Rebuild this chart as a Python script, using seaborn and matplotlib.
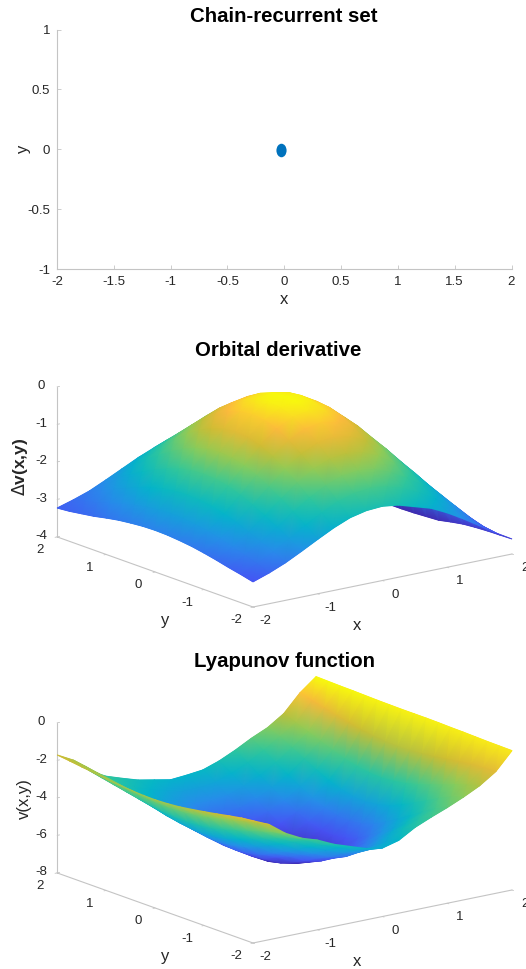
#!/usr/bin/env python3
# -*- coding: utf-8 -*-
"""
Chain-recurrent set, orbital derivative and Lyapunov function
"""
import numpy as np
import pandas as pd
import matplotlib
matplotlib.use('Agg')
import matplotlib.pyplot as plt
import seaborn as sns
from matplotlib.colors import LinearSegmentedColormap
from matplotlib.markers import MarkerStyle
from matplotlib.transforms import Affine2D
from mpl_toolkits.mplot3d import proj3d

# chain-recurrent set
set_x = [-0.03]
set_y = [-0.01]

# grid of the two surfaces
grid_x = [-2, -1.75, -1.5, -1.25, -1, -0.75, -0.5, -0.25, 0,
          0.25, 0.5, 0.75, 1, 1.25, 1.5, 1.75, 2]
grid_y = list(grid_x)

# orbital derivative, one row per grid_y value
orbital = [
    [-3.33, -3.18, -3.00, -2.78, -2.55, -2.33, -2.15, -2.05, -2.02, -2.08, -2.21, -2.34, -2.55, -2.80, -3.07, -3.35, -3.60],
    [-3.25, -3.06, -2.83, -2.57, -2.30, -2.05, -1.84, -1.71, -1.66, -1.71, -1.84, -2.05, -2.30, -2.60, -2.93, -3.30, -3.61],
    [-3.18, -2.95, -2.68, -2.38, -2.06, -1.77, -1.53, -1.36, -1.31, -1.36, -1.53, -1.77, -2.06, -2.40, -2.78, -3.20, -3.62],
    [-3.10, -2.85, -2.54, -2.19, -1.83, -1.49, -1.21, -1.03, -0.97, -1.03, -1.21, -1.49, -1.83, -2.21, -2.64, -3.12, -3.64],
    [-3.03, -2.75, -2.40, -2.02, -1.62, -1.24, -0.93, -0.72, -0.65, -0.72, -0.93, -1.24, -1.62, -2.04, -2.50, -3.03, -3.67],
    [-2.97, -2.66, -2.29, -1.87, -1.43, -1.02, -0.68, -0.46, -0.38, -0.46, -0.68, -1.02, -1.43, -1.89, -2.39, -2.96, -3.73],
    [-2.93, -2.60, -2.20, -1.75, -1.29, -0.85, -0.49, -0.26, -0.18, -0.26, -0.49, -0.85, -1.29, -1.77, -2.30, -2.90, -3.80],
    [-2.90, -2.56, -2.15, -1.68, -1.20, -0.75, -0.38, -0.13, -0.05, -0.13, -0.38, -0.75, -1.20, -1.70, -2.25, -2.86, -3.82],
    [-2.89, -2.54, -2.13, -1.66, -1.17, -0.71, -0.34, -0.09, -0.02, -0.09, -0.34, -0.71, -1.17, -1.68, -2.23, -2.84, -3.84],
    [-2.90, -2.56, -2.15, -1.68, -1.20, -0.75, -0.38, -0.13, -0.05, -0.13, -0.38, -0.75, -1.20, -1.70, -2.20, -2.76, -3.85],
    [-2.93, -2.60, -2.20, -1.75, -1.29, -0.85, -0.49, -0.26, -0.18, -0.26, -0.49, -0.85, -1.29, -1.77, -2.25, -2.80, -3.85],
    [-2.97, -2.66, -2.29, -1.87, -1.43, -1.02, -0.68, -0.46, -0.38, -0.46, -0.68, -1.02, -1.43, -1.89, -2.34, -2.86, -3.86],
    [-3.03, -2.75, -2.40, -2.02, -1.62, -1.24, -0.93, -0.72, -0.65, -0.72, -0.93, -1.24, -1.62, -2.04, -2.45, -2.95, -3.87],
    [-3.10, -2.85, -2.54, -2.19, -1.83, -1.49, -1.21, -1.03, -0.97, -1.03, -1.21, -1.49, -1.83, -2.21, -2.59, -3.05, -3.88],
    [-3.15, -2.95, -2.68, -2.38, -2.06, -1.77, -1.53, -1.36, -1.31, -1.36, -1.53, -1.77, -2.06, -2.40, -2.73, -3.15, -3.89],
    [-3.20, -3.03, -2.83, -2.57, -2.30, -2.05, -1.84, -1.71, -1.66, -1.71, -1.84, -2.05, -2.30, -2.60, -2.88, -3.26, -3.90],
    [-3.23, -3.10, -2.95, -2.75, -2.54, -2.33, -2.15, -2.04, -2.00, -2.04, -2.15, -2.33, -2.54, -2.78, -3.00, -3.20, -3.90],
]

# Lyapunov function, one row per grid_y value
lyapunov = [
    [-1.48, -1.86, -2.50, -2.94, -3.22, -3.62, -3.91, -4.20, -4.35, -4.12, -3.61, -3.24, -2.90, -2.52, -2.09, -1.51, -0.57],
    [-1.56, -1.98, -2.65, -3.12, -3.45, -3.87, -4.18, -4.50, -4.65, -4.43, -3.95, -3.57, -3.20, -2.75, -2.28, -1.55, -0.56],
    [-1.68, -2.13, -2.84, -3.37, -3.76, -4.20, -4.55, -4.89, -5.05, -4.85, -4.40, -4.01, -3.60, -3.05, -2.50, -1.60, -0.55],
    [-1.81, -2.30, -3.05, -3.65, -4.10, -4.58, -4.97, -5.33, -5.50, -5.33, -4.91, -4.50, -4.05, -3.42, -2.75, -1.69, -0.53],
    [-1.93, -2.45, -3.25, -3.90, -4.40, -4.92, -5.27, -5.64, -5.82, -5.68, -5.36, -4.94, -4.45, -3.76, -2.97, -1.79, -0.51],
    [-2.04, -2.60, -3.44, -4.15, -4.71, -5.25, -5.60, -6.01, -6.20, -6.07, -5.82, -5.38, -4.85, -4.10, -3.19, -1.89, -0.50],
    [-2.14, -2.74, -3.61, -4.36, -4.97, -5.55, -5.87, -6.31, -6.50, -6.38, -6.21, -5.77, -5.20, -4.39, -3.38, -1.97, -0.48],
    [-2.20, -2.81, -3.70, -4.49, -5.12, -5.72, -6.21, -6.60, -6.80, -6.74, -6.44, -5.99, -5.40, -4.56, -3.49, -2.02, -0.47],
    [-2.23, -2.85, -3.75, -4.55, -5.20, -5.80, -6.30, -6.75, -6.95, -6.85, -6.55, -6.10, -5.50, -4.65, -3.55, -2.05, -0.47],
    [-2.22, -2.84, -3.73, -4.53, -5.17, -5.77, -6.26, -6.70, -6.90, -6.80, -6.50, -6.05, -5.45, -4.61, -3.52, -2.03, -0.47],
    [-2.18, -2.79, -3.67, -4.44, -5.06, -5.63, -6.10, -6.52, -6.70, -6.60, -6.30, -5.85, -5.27, -4.45, -3.41, -1.96, -0.46],
    [-2.13, -2.71, -3.58, -4.31, -4.89, -5.43, -5.86, -6.25, -6.40, -6.30, -6.00, -5.56, -4.99, -4.21, -3.24, -1.86, -0.45],
    [-2.05, -2.61, -3.46, -4.14, -4.67, -5.15, -5.54, -5.89, -6.00, -5.90, -5.60, -5.17, -4.62, -3.89, -3.01, -1.72, -0.43],
    [-1.96, -2.50, -3.32, -3.95, -4.42, -4.85, -5.18, -5.49, -5.55, -5.45, -5.15, -4.73, -4.20, -3.53, -2.75, -1.56, -0.41],
    [-1.88, -2.39, -3.18, -3.75, -4.16, -4.54, -4.82, -5.08, -5.10, -5.00, -4.70, -4.29, -3.78, -3.17, -2.50, -1.40, -0.40],
    [-1.79, -2.27, -3.04, -3.56, -3.91, -4.24, -4.46, -4.68, -4.65, -4.55, -4.25, -3.85, -3.36, -2.81, -2.24, -1.24, -0.38],
    [-1.71, -2.16, -2.90, -3.37, -3.66, -3.93, -4.10, -4.27, -4.20, -4.10, -3.80, -3.40, -2.94, -2.55, -1.98, -1.05, -0.36],
]

xy_ticks = [-2, -1, 0, 1, 2]
orbital_ticks = [-4, -3, -2, -1, 0]
lyapunov_ticks = [-8, -6, -4, -2, 0]
set_xticks = [-2, -1.5, -1, -0.5, 0, 0.5, 1, 1.5, 2]
set_yticks = [-1, -0.5, 0, 0.5, 1]

W, H = 526, 969
GREY = '#c4c4c4'
TEXT = '#262626'

parula = LinearSegmentedColormap.from_list('parula', [
    (0.00, (0.2422, 0.1504, 0.6603)),
    (0.14, (0.2810, 0.3228, 0.9578)),
    (0.28, (0.1540, 0.5502, 0.9218)),
    (0.42, (0.0100, 0.7100, 0.7900)),
    (0.55, (0.2000, 0.7800, 0.6000)),
    (0.68, (0.5500, 0.8000, 0.3500)),
    (0.78, (0.8000, 0.7400, 0.2000)),
    (0.88, (0.9900, 0.7300, 0.2400)),
    (1.00, (0.9700, 0.9800, 0.0500)),
])

sns.set_theme(style='ticks')
plt.rcParams['font.family'] = ['Liberation Sans', 'DejaVu Sans']
plt.rcParams['axes.edgecolor'] = GREY
plt.rcParams['axes.linewidth'] = 0.8
plt.rcParams['axes.unicode_minus'] = False


def place(ax, zmin, left, right):
    """
    Scale and move a 3d axes so that the floor corners at x=-2 and x=2
    (both y=-2) land on the given pixels
    """
    M = ax.get_proj()
    ax.set_position([0.1, 0.1, 0.5, 0.5 * W / H])
    x0, y0, _ = proj3d.proj_transform(-2, -2, zmin, M)
    x1, y1, _ = proj3d.proj_transform(2, -2, zmin, M)
    a = ax.transData.transform([(x0, y0), (x1, y1)])
    k = (right[0] - left[0]) / (a[1, 0] - a[0, 0])
    w, h = 0.5 * k, 0.5 * W / H * k
    ax.set_position([0.1, 0.1, w, h])
    a = ax.transData.transform([(x0, y0)])[0]
    ax.set_position([0.1 + (left[0] - a[0]) / W,
                     0.1 + (H - left[1] - a[1]) / H, w, h])


def smooth_colours(ax, X, Y, Z):
    """
    Gouraud shading of the projected grid, back to front, drawn over
    the flat facets of plot_surface
    """
    x, y, tz = proj3d.proj_transform(X.ravel(), Y.ravel(), Z.ravel(), ax.get_proj())
    px = ax.transData.transform(np.column_stack((x, y)))
    n = X.shape[1]
    tris = []
    for i in range(X.shape[0] - 1):
        for j in range(n - 1):
            a, b, c, d = i * n + j, i * n + j + 1, (i + 1) * n + j + 1, (i + 1) * n + j
            tris.append((a, b, c))
            tris.append((a, c, d))
    tris = np.array(tris)
    tris = tris[np.argsort(-tz[tris].mean(axis=1))]
    overlay.tripcolor(px[:, 0], px[:, 1], tris, Z.ravel(), shading='gouraud',
                      cmap=parula, vmin=Z.min(), vmax=Z.max())


def surface(rect_left, rect_right, z, zticks):
    ax = fig.add_axes([0.1, 0.1, 0.5, 0.5 * W / H], projection='3d',
                      proj_type='ortho')
    ax.patch.set_visible(False)
    ax.view_init(elev=15.7, azim=-127.1)
    ax.set_box_aspect((1, 1, 0.48))
    ax.set_xlim(-2, 2, view_margin=0)
    ax.set_ylim(-2, 2, view_margin=0)
    ax.set_zlim(zticks[0], zticks[-1], view_margin=0)

    X, Y = np.meshgrid(grid_x, grid_y)
    Z = np.array(z)
    s = ax.plot_surface(X, Y, Z, cmap=parula, rstride=1, cstride=1,
                        linewidth=0.3, antialiased=True, shade=False)
    s.set_edgecolor('face')
    s.set_clip_on(False)

    ax.grid(False)
    for axis in (ax.xaxis, ax.yaxis, ax.zaxis):
        axis.pane.set_visible(False)
        axis.line.set_color(GREY)
        axis.line.set_linewidth(0.8)
        axis._axinfo['tick']['linewidth'] = {True: 0.6, False: 0.6}
    ax.zaxis._axinfo['tick']['inward_factor'] = 0
    ax.zaxis._axinfo['tick']['outward_factor'] = 0.12
    for axis in (ax.xaxis, ax.yaxis):
        axis._axinfo['tick']['inward_factor'] = 0.1
        axis._axinfo['tick']['outward_factor'] = 0
    ax.set_xticks(xy_ticks)
    ax.set_yticks(xy_ticks)
    ax.set_zticks(zticks)
    ax.tick_params(labelsize=9.5, color=GREY, labelcolor=TEXT, pad=3.4)
    ax.tick_params(axis='z', pad=-2)
    for axis in (ax.xaxis, ax.yaxis, ax.zaxis):
        plt.setp(axis.get_majorticklabels(), va='center')
    place(ax, zticks[0], rect_left, rect_right)
    smooth_colours(ax, X, Y, Z)
    return ax


fig = plt.figure(figsize=(W / 100, H / 100), dpi=100)

overlay = fig.add_axes([0, 0, 1, 1], zorder=5)
overlay.set_autoscale_on(False)
overlay.set_xlim(0, W)
overlay.set_ylim(0, H)
overlay.axis('off')

# chain-recurrent set
ax = fig.add_axes([57 / W, 1 - 269 / H, 454.5 / W, 239.5 / H])
df = pd.DataFrame({'x': set_x, 'y': set_y})
sns.scatterplot(data=df, x='x', y='y', ax=ax, color='#0072bd', s=95,
                linewidth=0,
                marker=MarkerStyle('o', transform=Affine2D().scale(0.75, 1)))
ax.set_xlim(-2, 2)
ax.set_ylim(-1, 1)
ax.set_xticks(set_xticks)
ax.set_xticklabels(['-2', '-1.5', '-1', '-0.5', '0', '0.5', '1', '1.5', '2'])
ax.set_yticks(set_yticks)
ax.set_yticklabels(['-1', '-0.5', '0', '0.5', '1'])
ax.tick_params(direction='in', length=3, width=0.6, color=GREY, labelsize=9.5,
               labelcolor=TEXT, pad=5)
ax.set_xlabel('x', fontsize=12, color=TEXT, labelpad=3)
ax.set_ylabel('y', fontsize=12, color=TEXT, labelpad=-3)
sns.despine(ax=ax)

surface((253, 607), (512, 554), orbital, orbital_ticks)
surface((253, 943), (512, 890), lyapunov, lyapunov_ticks)

# axis labels of the surfaces
for px, py, txt, rot, weight, size in [
        (357, 625, 'x', 0, 'normal', 12),
        (165, 621, 'y', 0, 'normal', 12),
        (20, 467, r'$\Delta$v(x,y)', 90, 'bold', 12.5),
        (357, 961, 'x', 0, 'normal', 12),
        (165, 957, 'y', 0, 'normal', 12),
        (24, 799, 'v(x,y)', 90, 'normal', 12)]:
    fig.text(px / W, 1 - py / H, txt, ha='center', va='center', rotation=rot,
             fontweight=weight, fontsize=size, color=TEXT)

fig.text(284 / W, 1 - 16.5 / H, 'Chain-recurrent set', ha='center', va='center',
         fontsize=14.7, fontweight='bold', color='black')
fig.text(278 / W, 1 - 350.5 / H, 'Orbital derivative', ha='center', va='center',
         fontsize=14.7, fontweight='bold', color='black')
fig.text(284 / W, 1 - 661.5 / H, 'Lyapunov function', ha='center', va='center',
         fontsize=14.7, fontweight='bold', color='black')

fig.savefig('out.png', dpi=100)
